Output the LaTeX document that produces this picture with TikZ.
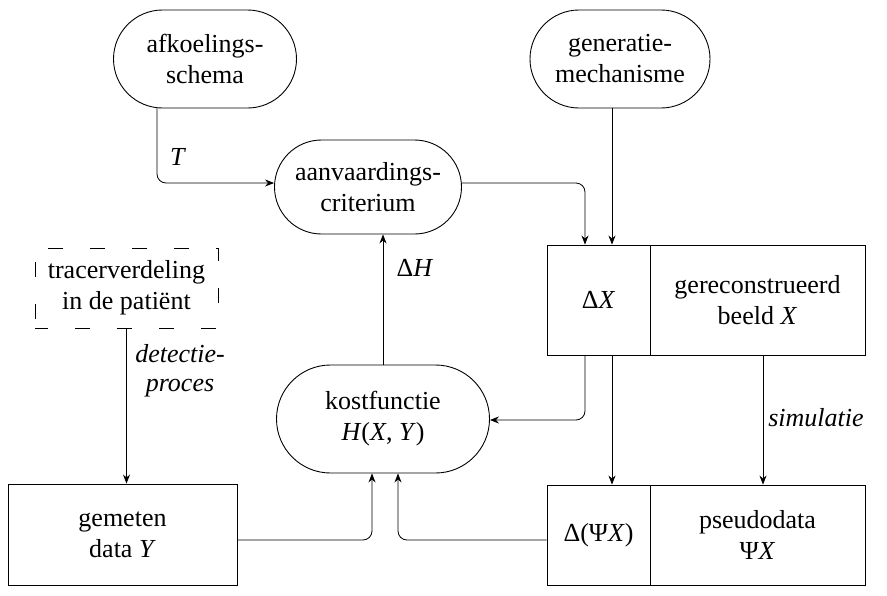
\documentclass[tikz,border=0pt]{standalone}
\usepackage{fontspec}
\setmainfont{Liberation Serif}
\usetikzlibrary{arrows.meta,shapes.misc}
\begin{document}
\begin{tikzpicture}[x=1pt,y=-1pt,
  every node/.style={font=\fontsize{26}{31}\selectfont, align=center, inner sep=0pt},
  pill/.style={draw, line width=0.9pt, rounded rectangle, rounded rectangle arc length=180},
  blok/.style={draw, line width=0.9pt, rectangle},
  dblok/.style={draw, line width=0.9pt, rectangle, dash pattern=on 15pt off 27pt, dash phase=2pt},
  pijl/.style={line width=0.8pt, rounded corners=9pt, -{Stealth[length=9pt,width=7pt]}},
  lbl/.style={font=\fontsize{26}{29}\selectfont\itshape}]
\useasboundingbox (0,0) rectangle (887,595);
% nodes
\node[pill, minimum width=183pt, minimum height=98pt] (afk) at (205,59) {afkoelings-\\schema};
\node[pill, minimum width=180pt, minimum height=98pt] (gen) at (620,59) {generatie-\\mechanisme};
\node[pill, minimum width=187pt, minimum height=94pt] (aanv) at (368,187) {aanvaardings-\\criterium};
\node[pill, minimum width=213pt, minimum height=108pt] (kost) at (383,419) {kostfunctie\\\textit{H}(\textit{X}, \textit{Y})};
\node[dblok, minimum width=183pt, minimum height=80pt] (tracer) at (126.5,288) {tracerverdeling\\in de patiënt};
\node[blok, minimum width=103pt, minimum height=110pt] (dx) at (598.5,300) {Δ\textit{X}};
\node[blok, minimum width=215pt, minimum height=110pt] (rec) at (757.5,300) {gereconstrueerd\\beeld \textit{X}};
\node[blok, minimum width=229pt, minimum height=101pt] (gem) at (122.5,534.5) {gemeten\\data \textit{Y}};
\node[blok, minimum width=103pt, minimum height=100pt] (dpx) at (598.5,535) {Δ(Ψ\textit{X})};
\node[blok, minimum width=215pt, minimum height=100pt] (pse) at (757.5,535) {pseudodata\\Ψ\textit{X}};
\draw[line width=1.6pt] (dx.north east) -- (dx.south east);
\draw[line width=1.6pt] (dpx.north east) -- (dpx.south east);
% labels
\node (lT) at (178,157) {\textit{T}};
\node (lH) at (415,268) {Δ\textit{H}};
\node[lbl] (ldet) at (180,371) {detectie-\\proces};
\node[lbl] (lsim) at (816,418) {simulatie};
% connectors
\draw[pijl] (afk.south -| 157,0) |- (aanv.west |- 0,183);
\draw[pijl] (aanv.east |- 0,183) -| (dx.north -| 585,0);
\draw[pijl] (gen.south -| 612,0) -- (dx.north -| 612,0);
\draw[pijl] (kost.north) -- (aanv.south -| kost.north);
\draw[pijl] (tracer.south) -- (gem.north -| tracer.south);
\draw[pijl] (dx.south -| 585,0) |- (kost.east |- 0,420);
\draw[pijl] (dx.south -| 612,0) -- (dpx.north -| 612,0);
\draw[pijl] (rec.south -| 763,0) -- (pse.north -| 763,0);
\draw[pijl] (gem.east |- 0,540) -| (kost.south -| 372,0);
\draw[pijl] (dpx.west |- 0,540) -| (kost.south -| 398,0);
\end{tikzpicture}
\end{document}
